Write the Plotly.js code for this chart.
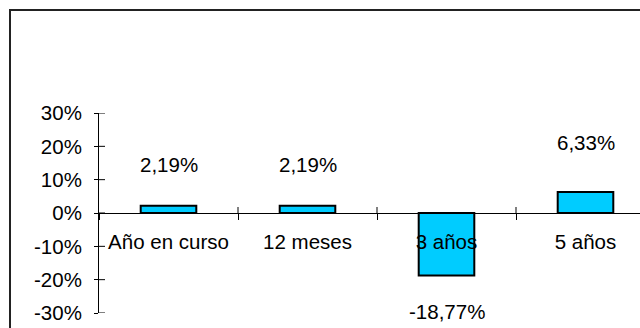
<!DOCTYPE html>
<html>
<head>
<meta charset="utf-8">
<script src="https://cdn.plot.ly/plotly-3.0.1.min.js"></script>
<style>
  html, body { margin: 0; padding: 0; background: #fff; overflow: hidden; }
  #chart { width: 640px; height: 328px; }
</style>
</head>
<body>
<div id="chart"></div>
<script>
// Rentabilidad por periodo (%)
const periods = ['Año en curso', '12 meses', '3 años', '5 años'];
const returns = [2.19, 2.19, -18.77, 6.33];
const yTicks = [-30, -20, -10, 0, 10, 20, 30];
const yTickText = ['-30%', '-20%', '-10%', '0%', '10%', '20%', '30%'];

// Vertical distance (px) between each bar end and its value label
const labelOffsetPx = [41, 41, -36, 49];

const FONT = { family: 'Liberation Sans, Arial, sans-serif', size: 20.5, color: '#000' };

const W = 640, H = 328;
const M = { l: 99, r: 0, t: 113, b: 15 };
const catWidthPx = 139;
const plotW = W - M.l - M.r;
const plotH = H - M.t - M.b;
const xRange = [-0.5, -0.5 + plotW / catWidthPx];
const yRange = [yTicks[0], yTicks[yTicks.length - 1]];

const fmt = v => v.toFixed(2).replace('.', ',') + '%';

const bars = {
  type: 'bar',
  x: periods,
  y: returns,
  width: 0.4,
  marker: { color: '#00CCFF', line: { color: '#000', width: 2 } },
  hoverinfo: 'skip'
};

const annotations = periods.map((p, i) => ({
  x: p, y: returns[i], xref: 'x', yref: 'y',
  text: fmt(returns[i]),
  showarrow: false,
  xanchor: 'center', yanchor: 'middle',
  yshift: labelOffsetPx[i],
  font: FONT
}));

// Chart frame (runs past the right and bottom edges)
const frame = {
  type: 'rect', xref: 'paper', yref: 'paper',
  x0: (10 - M.l) / plotW, x1: (W + 20 - M.l) / plotW,
  y0: -(H + 20 - M.t - plotH) / plotH, y1: (M.t - 10 + plotH) / plotH,
  line: { color: '#222', width: 2 }, fillcolor: 'rgba(0,0,0,0)'
};

// Inner halves of the cross-style tick marks
const tickLine = { color: '#000', width: 1 };
const yInnerTicks = yTicks.map(v => ({
  type: 'line', xref: 'paper', yref: 'y',
  xsizemode: 'pixel', xanchor: 0, x0: 0, x1: 6,
  y0: v, y1: v, line: tickLine
}));
const xInnerTicks = periods.slice(1).map((p, i) => ({
  type: 'line', xref: 'x', yref: 'y',
  x0: i + 0.5, x1: i + 0.5,
  ysizemode: 'pixel', yanchor: 0, y0: 0, y1: 6, line: tickLine
}));

const layout = {
  width: W, height: H,
  margin: M,
  paper_bgcolor: '#fff', plot_bgcolor: '#fff',
  showlegend: false,
  font: FONT,
  xaxis: {
    type: 'category',
    range: xRange,
    tickson: 'boundaries',
    ticks: 'outside', ticklen: 6, tickcolor: '#000', tickwidth: 1,
    showline: true, linecolor: '#000', linewidth: 1,
    showgrid: false, zeroline: false,
    anchor: 'free', position: 0.5,
    ticklabelstandoff: 10,
    tickfont: FONT
  },
  yaxis: {
    range: yRange,
    tickmode: 'array',
    tickvals: yTicks,
    ticktext: yTickText,
    ticks: 'outside', ticklen: 4, tickcolor: '#000', tickwidth: 1,
    showline: true, linecolor: '#000', linewidth: 1,
    showgrid: false, zeroline: false,
    ticklabelstandoff: 8,
    tickfont: FONT
  },
  shapes: [frame, ...yInnerTicks, ...xInnerTicks],
  annotations: annotations
};

Plotly.newPlot('chart', [bars], layout, { staticPlot: true, displayModeBar: false });
</script>
</body>
</html>
